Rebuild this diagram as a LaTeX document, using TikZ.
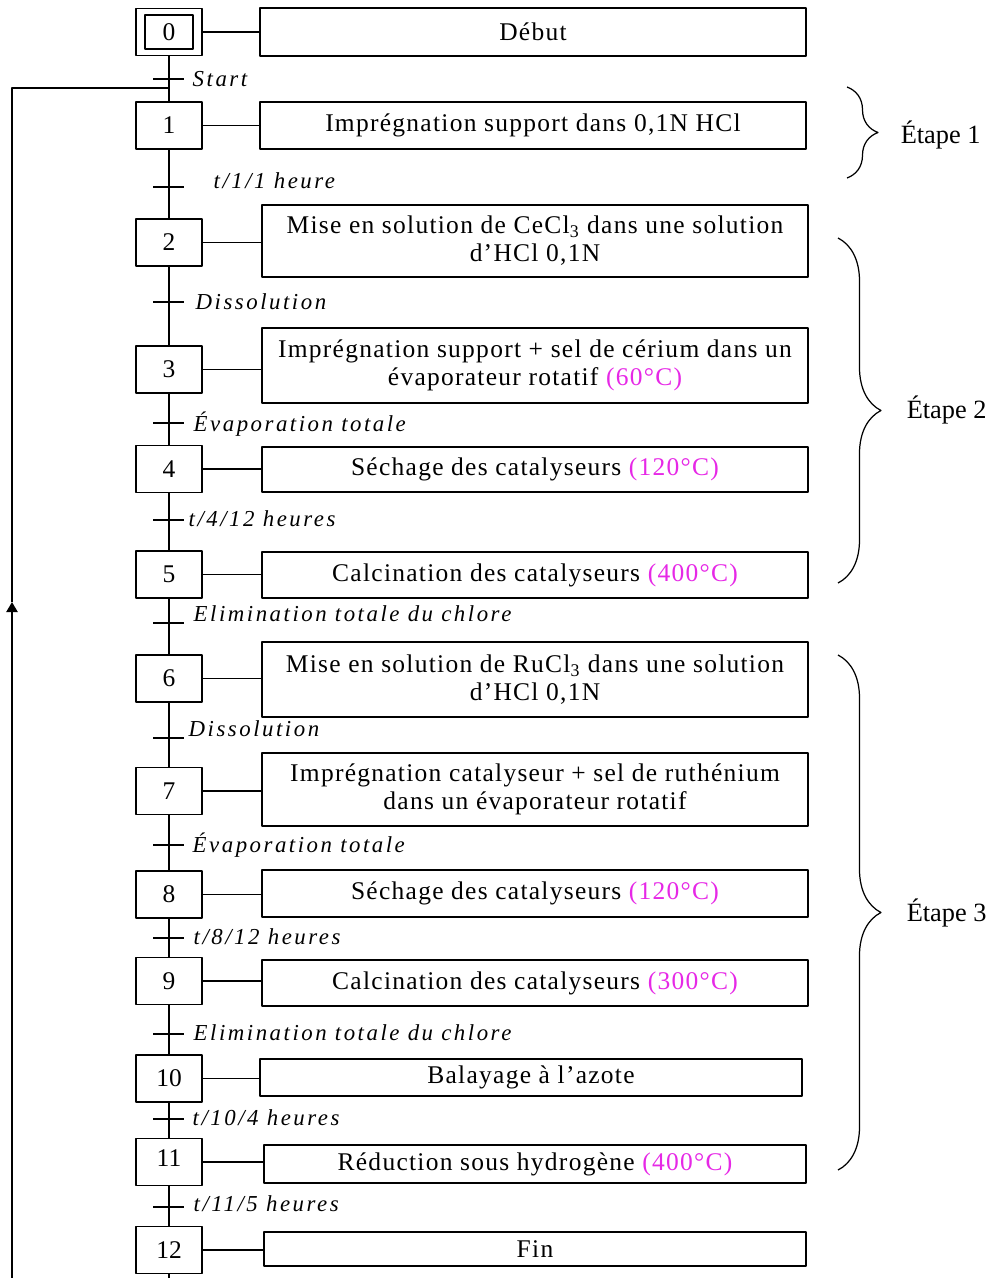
\documentclass[tikz,border=0pt]{standalone}
\usepackage{fontspec}
\setmainfont{Liberation Serif}
\newfontfamily\serifesp[LetterSpace=5]{Liberation Serif}
\newfontfamily\serifit[LetterSpace=11]{Liberation Serif}
\usetikzlibrary{arrows.meta,decorations.pathreplacing}
\definecolor{rose}{RGB}{230,40,230}
\begin{document}
\begin{tikzpicture}[x=0.02cm, y=-0.02cm, line width=0.85pt, line join=round, >={Triangle[length=0.2cm,width=0.22cm]},
  etape/.style={draw, minimum width=1.32cm, minimum height=0.94cm, inner sep=0pt, font=\fontsize{14.5}{16}\selectfont},
  action/.style={draw, align=center, inner sep=0pt, minimum width=10.92cm, font=\serifesp\fontsize{14.5}{16}\selectfont},
  recep/.style={anchor=west, inner sep=0pt, font=\serifit\itshape\fontsize{13}{15}\selectfont},
  etiq/.style={anchor=west, inner sep=0pt, font=\fontsize{15}{17}\selectfont},
  accolade/.style={decorate, line width=0.7pt}]
\useasboundingbox (0,0) rectangle (993,1278);
% etapes
\node[etape] (s0) at (169,32) {};
\node[etape, minimum width=0.96cm, minimum height=0.68cm] (s0i) at (s0) {0};
\foreach \n/\y in {1/125.5, 2/242.5, 3/369.5, 4/469, 5/574.5, 6/678.5, 7/791, 8/894.5, 9/981, 10/1078.5}
  \node[etape] (s\n) at (169,\y) {\n};
\node[etape] (s11) at (169,1162) {\raisebox{0.14cm}{11}};
\node[etape] (s12) at (169,1250) {\raisebox{-0.06cm}{12}};
% actions
\node[action, minimum height=0.96cm] (a0) at (533,32) {Début};
\node[action, minimum height=0.94cm] (a1) at (533,125.5) {Imprégnation support dans 0,1N HCl};
\node[action, minimum height=1.44cm] (a2) at (535,241) {Mise en solution de CeCl\textsubscript{3} dans une solution\\d’HCl 0,1N};
\node[action, minimum height=1.5cm] (a3) at (535,365.5) {Imprégnation support + sel de cérium dans un\\évaporateur rotatif \textcolor{rose}{(60°C)}};
\node[action, minimum height=0.9cm] (a4) at (535,469.5) {Séchage des catalyseurs \textcolor{rose}{(120°C)}};
\node[action, minimum height=0.92cm] (a5) at (535,575) {Calcination des catalyseurs \textcolor{rose}{(400°C)}};
\node[action, minimum height=1.5cm] (a6) at (535,679.5) {Mise en solution de RuCl\textsubscript{3} dans une solution\\d’HCl 0,1N};
\node[action, minimum height=1.46cm] (a7) at (535,789.5) {Imprégnation catalyseur + sel de ruthénium\\dans un évaporateur rotatif};
\node[action, minimum height=0.94cm] (a8) at (535,893.5) {Séchage des catalyseurs \textcolor{rose}{(120°C)}};
\node[action, minimum height=0.92cm] (a9) at (535,983) {Calcination des catalyseurs \textcolor{rose}{(300°C)}};
\node[action, minimum width=10.84cm, minimum height=0.74cm] (a10) at (531,1077.5) {Balayage à l’azote};
\node[action, minimum width=10.84cm, minimum height=0.76cm] (a11) at (535,1164) {Réduction sous hydrogène \textcolor{rose}{(400°C)}};
\node[action, minimum width=10.84cm, minimum height=0.68cm] (a12) at (535,1249) {Fin};
\foreach \n in {0,...,12}
  \draw (s\n.east) -- (s\n.east -| a\n.west);
% liaisons et transitions
\foreach \a/\b in {0/1, 1/2, 2/3, 3/4, 4/5, 5/6, 6/7, 7/8, 8/9, 9/10, 10/11, 11/12}
  \draw (s\a.south) -- (s\b.north);
\foreach \i/\y/\x/\ly/\t in {0/79/192/79/Start, 1/187/213/181/{t/1/1 heure}, 2/302/195/302/Dissolution,
    3/423/193/424/Évaporation totale, 4/520/188/519/{t/4/12 heures}, 5/623/193/614/Elimination totale du chlore,
    6/738/188/729/Dissolution, 7/845/192/845/Évaporation totale, 8/938/193/937/{t/8/12 heures},
    9/1034/193/1033/Elimination totale du chlore, 10/1119/192/1118/{t/10/4 heures}, 11/1207/193/1204/{t/11/5 heures}}{
  \coordinate (t\i) at (169,\y);
  \draw ([xshift=-0.32cm]t\i) -- ([xshift=0.3cm]t\i);
  \node[recep] (l\i) at (\x,\ly) {\t};
}
% retour
\path (169,1278) coordinate (fin) (12,1278) coordinate (bas) (169,88) coordinate (retour) (12,602) coordinate (fleche);
\draw (s12.south) -- (fin);
\draw[line width=1.3pt, ->] (bas) -- (fleche);
\draw (fleche) |- (retour);
% accolades
\draw[accolade, decoration={brace, amplitude=0.62cm}] (847,87) -- (847,178);
\node[etiq] (e1) at (900,135) {Étape 1};
\draw[accolade, decoration={brace, amplitude=0.86cm}] (838,238) -- (838,583);
\node[etiq] (e2) at (906,410) {Étape 2};
\draw[accolade, decoration={brace, amplitude=0.86cm}] (838,655) -- (838,1170);
\node[etiq] (e3) at (906,913) {Étape 3};
\end{tikzpicture}
\end{document}
